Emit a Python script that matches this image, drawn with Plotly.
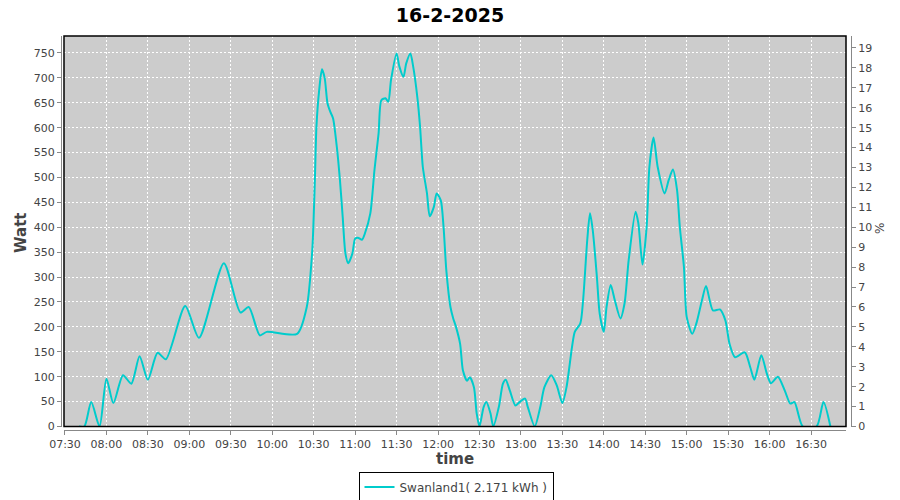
import plotly.graph_objects as go

DATE = "2025-02-16"
times = ["07:40", "07:44", "07:49", "07:55", "08:00", "08:05", "08:12", "08:18", "08:24", "08:30",
         "08:37", "08:43", "08:57", "09:07", "09:25", "09:37", "09:43", "09:51", "09:56", "10:18",
         "10:25", "10:29", "10:30", "10:31", "10:32", "10:34", "10:36", "10:38", "10:40", "10:42",
         "10:44", "10:47", "10:49", "10:51", "10:53", "10:55", "10:58", "11:00", "11:02", "11:05",
         "11:07", "11:11", "11:14", "11:17", "11:19", "11:22", "11:24", "11:26", "11:30", "11:32",
         "11:35", "11:37", "11:40", "11:42", "11:45", "11:47", "11:49", "11:52", "11:54", "11:57",
         "11:59", "12:02", "12:04", "12:06", "12:09", "12:11", "12:13", "12:16", "12:18", "12:21",
         "12:23", "12:26", "12:28", "12:30", "12:33", "12:35", "12:38", "12:40", "12:44", "12:47",
         "12:49", "12:52", "12:56", "12:59", "13:03", "13:05", "13:10", "13:14", "13:17", "13:22",
         "13:26", "13:30", "13:33", "13:37", "13:39", "13:43", "13:45", "13:48", "13:50", "13:52",
         "13:55", "13:57", "14:00", "14:02", "14:05", "14:08", "14:12", "14:15", "14:18", "14:23",
         "14:25", "14:28", "14:31", "14:33", "14:36", "14:39", "14:44", "14:47", "14:50", "14:53",
         "14:55", "14:58", "15:00", "15:04", "15:07", "15:11", "15:14", "15:19", "15:24", "15:28",
         "15:31", "15:35", "15:42", "15:46", "15:49", "15:54", "15:58", "16:01", "16:06", "16:11",
         "16:15", "16:18", "16:24", "16:34", "16:39", "16:44"]
watt = [0, 0, 49, 0, 96, 47, 103, 86, 141, 94,
        148, 135, 242, 178, 328, 229, 240, 183, 190, 186,
        240, 354, 421, 508, 602, 676, 717, 699, 649, 632,
        619, 555, 495, 421, 347, 328, 347, 377, 379, 375,
        387, 428, 515, 589, 655, 659, 652, 696, 749, 723,
        702, 729, 749, 723, 662, 602, 521, 468, 422, 441,
        468, 454, 401, 314, 240, 217, 200, 166, 113, 92,
        99, 79, 26, 0, 39, 49, 26, 0, 39, 86,
        94, 72, 42, 49, 56, 39, 0, 39, 79, 103,
        82, 47, 79, 160, 190, 207, 253, 374, 428, 394,
        300, 227, 190, 240, 284, 253, 217, 247, 334, 431,
        408, 325, 401, 521, 580, 521, 468, 495, 516, 475,
        401, 320, 220, 186, 207, 253, 282, 233, 235, 213,
        166, 139, 149, 119, 94, 143, 106, 87, 100, 72,
        46, 49, 0, 0, 49, 0]

SERIES_NAME = "Swanland1( 2.171 kWh )"
TITLE = "16-2-2025"
PCT_DIVISOR = 40.0

x = [f"{DATE} {t}" for t in times]
pct = [w / PCT_DIVISOR for w in watt]

FONT = "DejaVu Sans"
GRAY = "#444444"
AXC = "#888888"

fig = go.Figure()
fig.add_trace(go.Scatter(x=x, y=watt, mode="lines", name=SERIES_NAME,
                         line=dict(color="#00CCCC", width=2, shape="spline", smoothing=0.7),
                         hoverinfo="x+y"))
fig.add_trace(go.Scatter(x=x, y=pct, mode="lines", yaxis="y2", showlegend=False,
                         line=dict(width=0, color="rgba(0,0,0,0)"), hoverinfo="skip"))

W = 790.0
H = 394.0
fig.update_layout(
    width=900, height=500,
    margin=dict(l=61, r=49, t=36, b=70, autoexpand=False),
    paper_bgcolor="white", plot_bgcolor="#CCCCCC",
    font=dict(family=FONT, size=11, color=GRAY),
    title=dict(text=f"<b>{TITLE}</b>", x=0.5, xanchor="center", y=0.97, yanchor="middle",
               font=dict(family=FONT, size=19, color="black")),
    xaxis=dict(domain=[3 / W, 785 / W], type="date",
               range=[f"{DATE} 07:29:17", f"{DATE} 16:55:18"],
               tick0=f"{DATE} 07:30", dtick=1800000, tickformat="%H:%M",
               anchor="free", position=0,
               showgrid=True, gridcolor="white", griddash="2px,2px", gridwidth=1,
               showline=True, linecolor=AXC, linewidth=1,
               ticks="outside", ticklen=4, tickcolor=AXC,
               tickfont=dict(family=FONT, size=11, color=GRAY),
               zeroline=False),
    yaxis=dict(domain=[3.5 / H, 1], range=[0, 784], dtick=50, tick0=0,
               anchor="free", position=0,
               showgrid=True, gridcolor="white", griddash="2px,2px", gridwidth=1,
               showline=True, linecolor=AXC, linewidth=1,
               ticks="outside", ticklen=4, tickcolor=AXC,
               tickfont=dict(family=FONT, size=11, color=GRAY),
               zeroline=False),
    yaxis2=dict(overlaying="y", side="right", range=[0, 784 / PCT_DIVISOR], dtick=1, tick0=0,
                anchor="free", position=1,
                showgrid=False, zeroline=False,
                showline=True, linecolor=AXC, linewidth=1,
                ticks="outside", ticklen=4, tickcolor=AXC,
                tickfont=dict(family=FONT, size=11, color=GRAY)),
    legend=dict(orientation="h", x=0.5, xanchor="center", y=-(487 - 430) / H, yanchor="middle",
                bordercolor="black", borderwidth=1, bgcolor="white", itemwidth=30,
                font=dict(family=FONT, size=12, color=GRAY)),
    showlegend=True,
)

fig.add_shape(type="rect", xref="x domain", yref="y domain", x0=0, x1=1, y0=0, y1=1,
              line=dict(color="black", width=1.5), layer="above")

fig.add_annotation(text="<b>Watt</b>", xref="paper", yref="paper", x=(21 - 61) / W, y=(430 - 233) / H,
                   xanchor="center", yanchor="middle",
                   textangle=-90, showarrow=False, font=dict(family=FONT, size=15, color=GRAY))
fig.add_annotation(text="<b>time</b>", xref="paper", yref="paper", x=(455 - 61) / W, y=-(459 - 430) / H,
                   xanchor="center", yanchor="middle",
                   showarrow=False, font=dict(family=FONT, size=15, color=GRAY))
fig.add_annotation(text="%", xref="paper", yref="paper", x=(880 - 61) / W, y=(430 - 229) / H,
                   xanchor="center", yanchor="middle",
                   textangle=-90, showarrow=False, font=dict(family=FONT, size=12, color=GRAY))

fig.write_html("out.html", config={"displayModeBar": False},
               post_script="document.body.style.margin='0';")
